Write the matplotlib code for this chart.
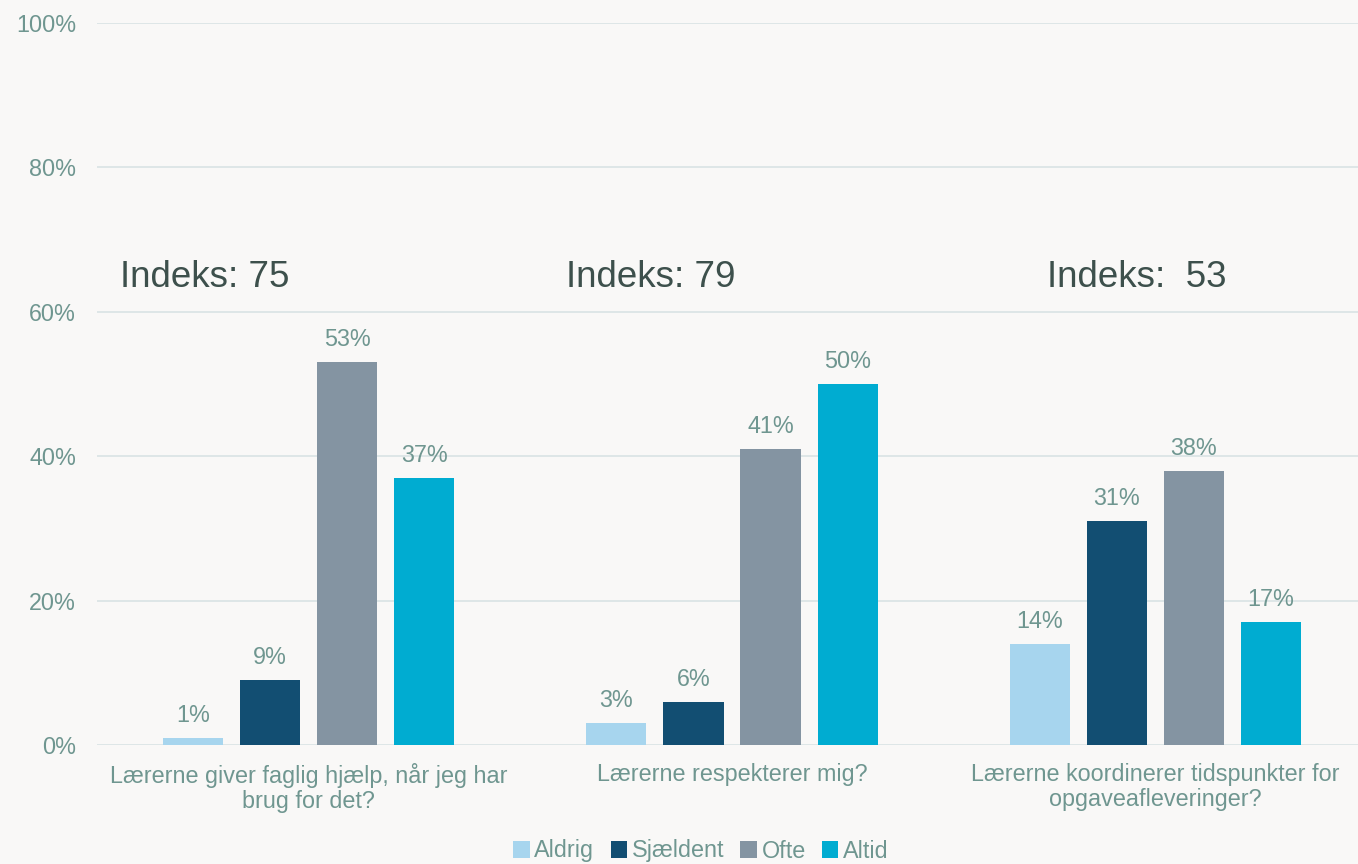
import matplotlib
matplotlib.use("Agg")
import matplotlib.pyplot as plt
import numpy as np

categories = ["Lærerne giver faglig hjælp, når jeg har\nbrug for det?",
              "Lærerne respekterer mig?",
              "Lærerne koordinerer tidspunkter for\nopgaveafleveringer?"]
series = ["Aldrig", "Sjældent", "Ofte", "Altid"]
values = {
    "Aldrig":   [1, 3, 14],
    "Sjældent": [9, 6, 31],
    "Ofte":     [53, 41, 38],
    "Altid":    [37, 50, 17],
}
index_labels = ["Indeks: 75", "Indeks: 79", "Indeks:  53"]
yticks = [0, 20, 40, 60, 80, 100]

colors = {"Aldrig": "#A7D5EE", "Sjældent": "#124E72", "Ofte": "#8494A2", "Altid": "#00ACD1"}
txt = "#6F9690"
bg = "#F9F8F7"

plt.rcParams['font.family'] = ['Liberation Sans', 'DejaVu Sans']
fig = plt.figure(figsize=(13.58, 8.64), dpi=100, facecolor=bg)
ax = fig.add_axes([97/1358, 1-745/864, (1367-97)/1358, (745-23)/864])
ax.set_facecolor(bg)

x = np.arange(len(categories))
width = 0.142
step = 0.182
handles = []
for i, s in enumerate(series):
    off = (i - 1.5) * step
    b = ax.bar(x + off, values[s], width, color=colors[s], label=s, zorder=3)
    handles.append(b)
    for xi, v in zip(x + off, values[s]):
        ax.annotate(f"{v}%", (xi, v), xytext=(0, 8), textcoords="offset points",
                    ha="center", va="bottom", fontsize=16.8, color=txt)

ax.set_xlim(-0.5, 2.5)
ax.set_ylim(0, 100)
ax.set_yticks(yticks)
ax.set_yticklabels([f"{t}%" for t in yticks], fontsize=16.8, color=txt)
ax.set_xticks(x)
ax.set_xticklabels(categories, fontsize=16.8, color=txt, linespacing=1.1)
ax.tick_params(axis="both", length=0)
ax.tick_params(axis="y", pad=15)
ax.tick_params(axis="x", pad=13)
for sp in ax.spines.values():
    sp.set_visible(False)
ax.grid(axis="y", color="#DCE5E6", linewidth=1.3, zorder=0)
ax.set_axisbelow(True)

idx_x = [-0.446, 0.608, 1.745]
for xx, lab in zip(idx_x, index_labels):
    ax.text(xx, 64.8, lab, fontsize=26.5, color="#3D504C", ha="left", va="center")

fig.legend(handles=handles, labels=series, loc="center", bbox_to_anchor=(701/1358, 1-851/864),
           ncol=4, frameon=False, fontsize=16.8, labelcolor=txt, handlelength=0.7, handleheight=0.7,
           handletextpad=0.2, columnspacing=0.7)

fig.savefig("out.png", dpi=100, facecolor=bg)
